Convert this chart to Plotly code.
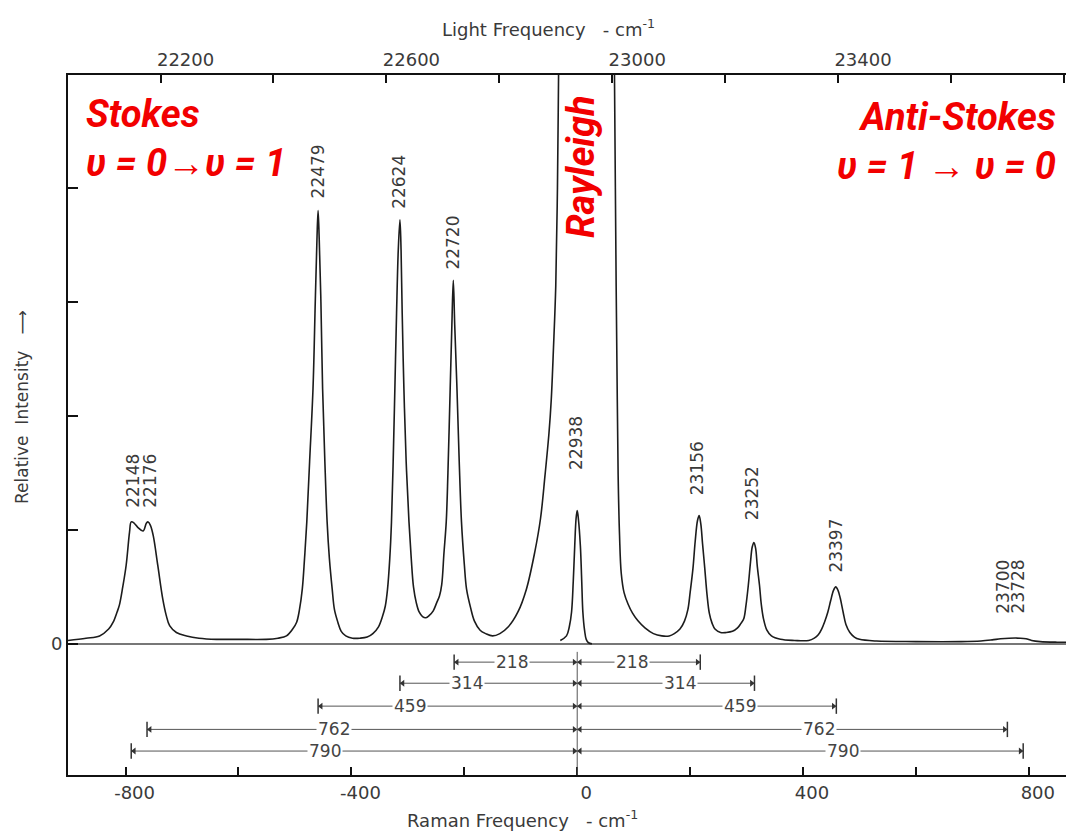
import plotly.graph_objects as go

# --- данные (Raman shift, см-1 / относительная интенсивность) ---
raman_shift = [
    -902, -870, -846, -830, -822, -815, -811, -805, -799, -793, -790, -785, -778, -769,
    -763, -760, -756, -751, -743, -734, -728, -722, -710, -692, -670, -639, -600, -551,
    -530, -515, -504, -497, -492, -487, -483, -479, -474, -468, -464, -461, -459, -457,
    -454, -451, -447, -443, -439, -434, -430, -424, -418, -410, -398, -385, -372, -362,
    -352, -345, -340, -336, -332, -329, -326, -323, -320, -317, -314, -312, -310, -307,
    -303, -298, -294, -290, -285, -280, -274, -268, -262, -255, -249, -244, -240, -236,
    -232, -229, -225, -222, -219.5, -217, -213, -209, -205, -200, -196, -189, -182, -172,
    -162, -150, -137, -122, -105, -90, -75, -65, -57, -50, -46, -42, -38, -35, -33, -31, -29,
    62, 65, 66, 69, 71, 72.5, 75, 78, 83, 90, 98, 108, 120, 135, 150, 163, 172, 182, 190,
    196, 200, 205, 209, 213, 216, 219, 222, 226, 230, 234, 239, 244, 254, 264, 275, 284,
    290, 295, 299, 303, 307, 310, 313, 316, 319, 323, 326, 330, 336, 344, 360, 385, 410,
    420, 427, 433, 438, 444, 449, 454, 458, 462, 466, 471, 476, 483, 491, 500, 530, 600,
    680, 715, 735, 750, 765, 785, 795, 805, 820, 850, 880,
]
intensity = [
    0.03, 0.05, 0.07, 0.13, 0.19, 0.28, 0.34, 0.50, 0.69, 0.98, 1.07, 1.06, 1.02, 0.99,
    1.06, 1.07, 1.04, 0.95, 0.69, 0.39, 0.25, 0.16, 0.10, 0.07, 0.05, 0.04, 0.04, 0.04,
    0.05, 0.07, 0.13, 0.19, 0.30, 0.48, 0.75, 1.07, 1.60, 2.24, 3.00, 3.55, 3.80, 3.55,
    3.00, 2.24, 1.60, 1.07, 0.75, 0.48, 0.30, 0.19, 0.11, 0.07, 0.05, 0.05, 0.06, 0.09,
    0.15, 0.24, 0.33, 0.48, 0.75, 1.07, 1.60, 2.24, 2.90, 3.45, 3.72, 3.45, 2.90, 2.24,
    1.60, 1.07, 0.75, 0.50, 0.36, 0.28, 0.24, 0.23, 0.25, 0.29, 0.36, 0.42, 0.52, 0.80,
    1.07, 1.50, 2.24, 2.80, 3.19, 2.80, 2.24, 1.60, 1.07, 0.70, 0.48, 0.32, 0.20, 0.12,
    0.09, 0.07, 0.09, 0.15, 0.28, 0.48, 0.81, 1.10, 1.48, 1.85, 2.14, 2.60, 3.14, 4.00, 5.00, 6.00, 7.50,
    7.50, 5.50, 5.00, 3.14, 2.14, 1.48, 0.95, 0.62, 0.45, 0.35, 0.27, 0.20, 0.14, 0.09, 0.07, 0.07, 0.09, 0.13, 0.20,
    0.30, 0.45, 0.66, 0.90, 1.08, 1.125, 1.05, 0.88, 0.66, 0.43, 0.27, 0.18, 0.13, 0.10, 0.10, 0.11, 0.14,
    0.18, 0.22, 0.34, 0.51, 0.72, 0.85, 0.89, 0.84, 0.68, 0.51, 0.35, 0.22, 0.12, 0.07, 0.04, 0.03, 0.03,
    0.05, 0.08, 0.13, 0.19, 0.28, 0.38, 0.47, 0.50, 0.47, 0.40, 0.28, 0.17, 0.10, 0.06, 0.04, 0.025, 0.02,
    0.02, 0.025, 0.035, 0.045, 0.05, 0.05, 0.045, 0.03, 0.02, 0.015, 0.015,
]

# ослабленная линия Рэлея (узкий пик 22938)
rayleigh_shift = [-30, -19, -14, -10, -7, -4.4, -2, 0, 2, 5.6, 8, 10, 13, 16, 20, 26]
rayleigh_int = [0.03, 0.07, 0.15, 0.28, 0.55, 0.86, 1.10, 1.17, 1.10, 0.86, 0.55, 0.28, 0.12, 0.04, 0.01, 0.0]

# подписи пиков (световая частота)
peak_text = ['22148', '22176', '22479', '22624', '22720', '22938', '23156', '23252', '23397', '23700', '23728']
peak_x = [-787, -757, -460, -314.5, -220, -1, 212, 311, 458, 754, 780]
peak_y = [1.43, 1.43, 4.14, 4.05, 3.52, 1.76, 1.54, 1.32, 0.86, 0.50, 0.50]

# размерные линии под спектром
shift_vals = [218, 314, 459, 762, 790]
shift_rows = [-0.16, -0.345, -0.546, -0.75, -0.94]
label_left_x = [-115, -196, -297, -431, -446]
label_right_x = [97, 182, 288, 428, 470]

raman_ticks = [-800, -600, -400, -200, 0, 200, 400, 600, 800]
raman_ticktext = ['-800', '', '-400', '', '0', '', '400', '', '800']
light_ticks = [22200, 22400, 22600, 22800, 23000, 23200, 23400, 23600, 23800]
light_ticktext = ['22200', '', '22600', '', '23000', '', '23400', '', '']

rayleigh_line = 22938
x_range = [-902, 880]
y_range = [-1.15, 4.99]

ink = '#1c1c1c'
grey_text = '#3a3a3a'
scan_font = 'DejaVu Sans'
red_font = dict(family='Roboto, Liberation Sans, Arial',
                size=38, color='#f20000', weight='bold', style='italic')

# область графика: 1006 x 700 пикселей
def px(x):
    return (x - 68) / 1006

def py(y):
    return (775 - y) / 700

fig = go.Figure()

fig.add_trace(go.Scatter(x=raman_shift, y=intensity, mode='lines', line_shape='spline',
                         line=dict(color=ink, width=1.6), hoverinfo='skip', showlegend=False))
fig.add_trace(go.Scatter(x=rayleigh_shift, y=rayleigh_int, mode='lines', line_shape='spline',
                         line=dict(color=ink, width=1.6), hoverinfo='skip', showlegend=False))

# невидимый след для верхней оси
fig.add_trace(go.Scatter(x=light_ticks, y=[0] * len(light_ticks), xaxis='x2', mode='markers',
                         marker=dict(opacity=0), hoverinfo='skip', showlegend=False))

# размерные линии
off = 5
for v, row in zip(shift_vals, shift_rows):
    fig.add_trace(go.Scatter(x=[-v, v], y=[row, row], mode='lines',
                             line=dict(color='#555555', width=1), hoverinfo='skip', showlegend=False))
    fig.add_trace(go.Scatter(x=[-v, v], y=[row, row], mode='markers',
                             marker=dict(symbol='line-ns-open', size=11, color='#333333',
                                         line=dict(color='#333333', width=1.5)),
                             hoverinfo='skip', showlegend=False))
    fig.add_trace(go.Scatter(x=[-v + off, off], y=[row, row], mode='markers',
                             marker=dict(symbol='triangle-left', size=6, color='#333333'),
                             hoverinfo='skip', showlegend=False))
    fig.add_trace(go.Scatter(x=[-off, v - off], y=[row, row], mode='markers',
                             marker=dict(symbol='triangle-right', size=6, color='#333333'),
                             hoverinfo='skip', showlegend=False))

fig.add_shape(type='line', x0=0, x1=0, y0=-0.07, y1=y_range[0], xref='x', yref='y',
              line=dict(color='#555555', width=1))

for v, row, lx, rx in zip(shift_vals, shift_rows, label_left_x, label_right_x):
    for xx in (lx, rx):
        fig.add_annotation(x=xx, y=row, text=str(v), showarrow=False, bgcolor='white',
                           borderpad=1, font=dict(family=scan_font, size=17, color='#444444'))

for t, xx, yy in zip(peak_text, peak_x, peak_y):
    fig.add_annotation(x=xx, y=yy, text=t, textangle=-90, showarrow=False,
                       xanchor='center', yanchor='middle',
                       font=dict(family=scan_font, size=17, color=grey_text))

# красные надписи
fig.add_annotation(xref='paper', yref='paper', x=px(84), y=py(90),
                   xanchor='left', yanchor='top', align='left', showarrow=False,
                   text='Stokes<br>υ = 0→υ = 1', font=red_font)
fig.add_annotation(xref='paper', yref='paper', x=px(1058), y=py(93),
                   xanchor='right', yanchor='top', align='right', showarrow=False,
                   text='Anti-Stokes<br>υ = 1 → υ = 0', font=red_font)
fig.add_annotation(xref='paper', yref='paper', x=px(581), y=py(167),
                   xanchor='center', yanchor='middle', textangle=-90, showarrow=False,
                   text='Rayleigh', font=red_font)

# подписи осей
fig.add_annotation(xref='paper', yref='paper', x=px(548), y=py(28),
                   xanchor='center', yanchor='middle', showarrow=False,
                   text='Light Frequency   - cm<sup>-1</sup>',
                   font=dict(family=scan_font, size=18, color=grey_text))
fig.add_annotation(xref='paper', yref='paper', x=px(522), y=py(819),
                   xanchor='center', yanchor='middle', showarrow=False,
                   text='Raman Frequency   - cm<sup>-1</sup>',
                   font=dict(family=scan_font, size=18, color=grey_text))
fig.add_annotation(xref='paper', yref='paper', x=px(22), y=py(407),
                   xanchor='center', yanchor='middle', showarrow=False, textangle=-90,
                   text='Relative  Intensity   ⟶',
                   font=dict(family=scan_font, size=17, color=grey_text))

axis_common = dict(showgrid=False, showline=True, linecolor='#111111', linewidth=2,
                   ticks='inside', tickcolor='#111111', tickwidth=2, automargin=False,
                   tickfont=dict(family=scan_font, size=18, color=grey_text))

# страница сдвигает рисунок на 8 px (отступ body), поэтому поля уменьшены на 8
fig.update_layout(
    width=1066, height=826,
    margin=dict(l=60, r=0, t=67, b=59),
    paper_bgcolor='white', plot_bgcolor='white',
    xaxis=dict(range=x_range, tickvals=raman_ticks, ticktext=raman_ticktext, ticklen=8,
               ticklabelshift=9, zeroline=False, **axis_common),
    xaxis2=dict(range=[rayleigh_line + x_range[0], rayleigh_line + x_range[1]], overlaying='x',
                side='top', tickvals=light_ticks, ticktext=light_ticktext, ticklen=8,
                ticklabelshift=25, zeroline=False, **axis_common),
    yaxis=dict(range=y_range, tickvals=[0, 1, 2, 3, 4], ticktext=['0', '', '', '', ''], ticklen=10,
               zeroline=True, zerolinecolor='#777777', zerolinewidth=1.5, **axis_common),
)

fig.write_html("out.html")
